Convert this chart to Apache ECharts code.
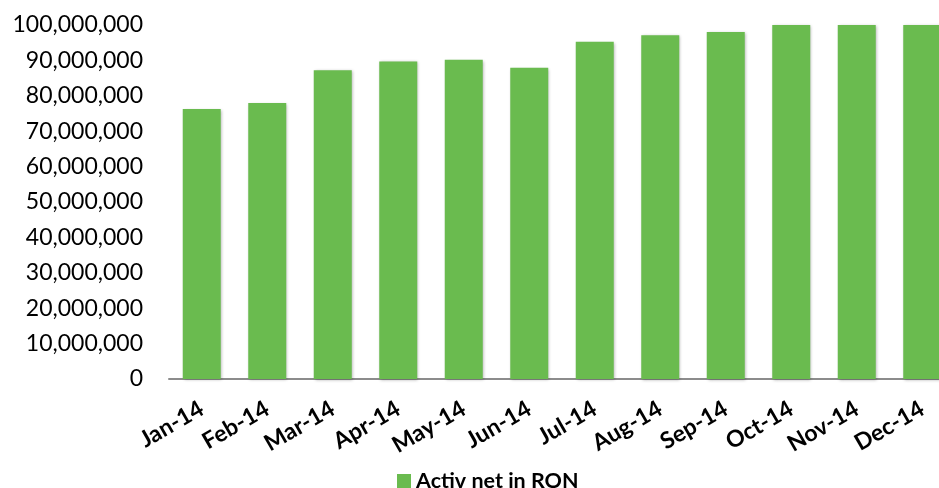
<!DOCTYPE html>
<html>
<head>
<meta charset="utf-8">
<script src="https://cdn.jsdelivr.net/npm/echarts@6/dist/echarts.min.js"></script>
<style>html,body{margin:0;padding:0;background:#fff;overflow:hidden;width:939px;height:488px}#c{width:960px;height:488px}</style>
</head>
<body>
<div id="c"></div>
<script>
var categories = ['Jan-14','Feb-14','Mar-14','Apr-14','May-14','Jun-14','Jul-14','Aug-14','Sep-14','Oct-14','Nov-14','Dec-14'];
var seriesName = 'Activ net in RON';
var values = [76300000, 78000000, 87200000, 89700000, 90200000, 87900000, 95300000, 97100000, 98000000, 100000000, 100000000, 100000000];
var yMin = 0, yMax = 100000000, yInterval = 10000000;

var chart = echarts.init(document.getElementById('c'));
chart.setOption({
  animation: false,
  textStyle: { fontFamily: 'Lato, "Open Sans", sans-serif' },
  grid: { left: 169, width: 786, top: 25, height: 354 },
  legend: {
    data: [seriesName],
    top: 470,
    left: 397,
    padding: 0,
    itemWidth: 14, itemHeight: 14, itemGap: 5,
    icon: 'rect',
    textStyle: { fontSize: 21.5, fontWeight: 'bold', color: '#000', fontFamily: 'Lato, sans-serif' }
  },
  xAxis: {
    type: 'category',
    data: categories,
    axisLine: { lineStyle: { color: '#8c8c8c', width: 2 } },
    axisTick: { show: false },
    axisLabel: { rotate: 30, fontSize: 23, fontWeight: 'bold', color: '#000', margin: 28, interval: 0 }
  },
  yAxis: {
    type: 'value',
    min: yMin, max: yMax, interval: yInterval,
    splitLine: { show: false },
    axisLine: { show: false },
    axisTick: { show: false },
    axisLabel: {
      fontSize: 23, color: '#000', margin: 26,
      formatter: function (v) { return v.toLocaleString('en-US'); }
    }
  },
  series: [{
    name: seriesName,
    type: 'bar',
    data: values,
    barWidth: 38,
    itemStyle: { color: '#6abb4f', shadowColor: 'rgba(0,0,0,0.3)', shadowBlur: 3, shadowOffsetX: 1, shadowOffsetY: 1 }
  }]
});
</script>
</body>
</html>
